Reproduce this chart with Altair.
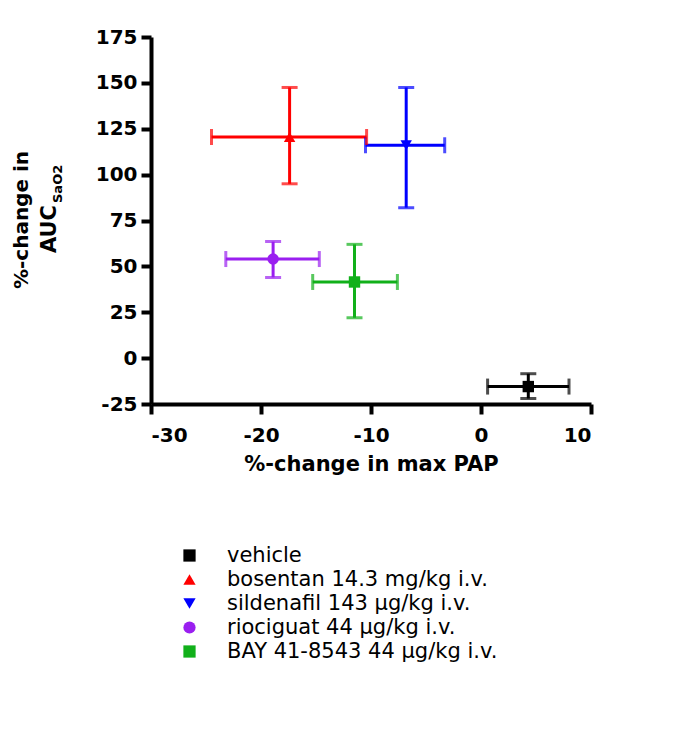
import altair as alt
import pandas as pd

groups = ["vehicle", "bosentan 14.3 mg/kg i.v.", "sildenafil 143 µg/kg i.v.",
          "riociguat 44 µg/kg i.v.", "BAY 41-8543 44 µg/kg i.v."]
colors = ["#000000", "#ff0000", "#0000ff", "#9a1ff0", "#11b01a"]
shapes = ["square", "triangle-up", "triangle-down", "circle", "square"]

x_mean = [4.3, -17.4, -6.8, -18.9, -11.5]
x_lo = [0.6, -24.5, -10.5, -23.2, -15.3]
x_hi = [8.0, -10.4, -3.3, -14.7, -7.6]
y_mean = [-15.5, 120.5, 116.0, 54.0, 41.5]
y_lo = [-22.0, 95.0, 82.0, 44.0, 22.0]
y_hi = [-8.5, 147.5, 147.5, 63.5, 62.0]

df = pd.DataFrame({"group": groups, "x": x_mean, "xlo": x_lo, "xhi": x_hi,
                   "y": y_mean, "ylo": y_lo, "yhi": y_hi})

FONT = "DejaVu Sans"
LBL = "datum.value < 0 ? '-' + abs(datum.value) : '' + datum.value"
xs = alt.Scale(domain=[-30, 10], nice=False, zero=False)
ys = alt.Scale(domain=[-25, 175], nice=False, zero=False)
cs = alt.Scale(domain=groups, range=colors)
ss = alt.Scale(domain=groups, range=shapes)

xax = alt.Axis(values=[-30, -20, -10, 0, 10], title="%-change in max PAP", grid=False, labelExpr=LBL)
yax = alt.Axis(values=list(range(-25, 176, 25)), title=None, grid=False, labelExpr=LBL)

leg = alt.Legend(title=None, orient="none", legendX=28, legendY=508)
col = alt.Color("group:N", scale=cs, legend=leg, sort=groups)

base = alt.Chart(df)

hbar = base.mark_rule(strokeWidth=3).encode(
    x=alt.X("xlo:Q", scale=xs, axis=xax), x2="xhi:Q",
    y=alt.Y("y:Q", scale=ys, axis=yax), color=col)
vbar = base.mark_rule(strokeWidth=3).encode(
    x=alt.X("x:Q", scale=xs, axis=xax),
    y=alt.Y("ylo:Q", scale=ys, axis=yax), y2="yhi:Q", color=col)
capl = base.mark_tick(orient="vertical", size=16, thickness=3).encode(
    x=alt.X("xlo:Q", scale=xs, axis=xax), y=alt.Y("y:Q", scale=ys, axis=yax), color=col)
capr = base.mark_tick(orient="vertical", size=16, thickness=3).encode(
    x=alt.X("xhi:Q", scale=xs, axis=xax), y=alt.Y("y:Q", scale=ys, axis=yax), color=col)
capb = base.mark_tick(orient="horizontal", size=16, thickness=3).encode(
    x=alt.X("x:Q", scale=xs, axis=xax), y=alt.Y("ylo:Q", scale=ys, axis=yax), color=col)
capt = base.mark_tick(orient="horizontal", size=16, thickness=3).encode(
    x=alt.X("x:Q", scale=xs, axis=xax), y=alt.Y("yhi:Q", scale=ys, axis=yax), color=col)
pts = base.mark_point(filled=True, size=130, opacity=1).encode(
    x=alt.X("x:Q", scale=xs, axis=xax), y=alt.Y("y:Q", scale=ys, axis=yax),
    color=col, shape=alt.Shape("group:N", scale=ss, legend=leg, sort=groups))

# y-axis title drawn as text (with subscript)
t1 = alt.Chart(pd.DataFrame({"t": ["%-change in"]})).mark_text(
    angle=270, font=FONT, fontSize=20, fontWeight="bold", align="center", baseline="middle"
).encode(text="t:N", x=alt.value(-129), y=alt.value(183))
t2 = alt.Chart(pd.DataFrame({"t": ["AUC"]})).mark_text(
    angle=270, font=FONT, fontSize=21, fontWeight="bold", align="right", baseline="middle"
).encode(text="t:N", x=alt.value(-101), y=alt.value(168))
t3 = alt.Chart(pd.DataFrame({"t": ["SaO2"]})).mark_text(
    angle=270, font=FONT, fontSize=13, fontWeight="bold", align="left", baseline="middle"
).encode(text="t:N", x=alt.value(-93), y=alt.value(166))

chart = alt.layer(hbar, vbar, capl, capr, capb, capt, pts, t1, t2, t3).properties(
    width=440, height=367,
    autosize=alt.AutoSizeParams(type="none"),
    padding={"left": 143, "top": 29, "right": 80, "bottom": 320},
).configure_view(stroke=None).configure_axis(
    domainColor="black", domainWidth=4, tickColor="black", tickWidth=4, tickSize=10,
    labelFont=FONT, labelFontSize=20, labelFontWeight="bold", labelColor="black",
    titleFont=FONT, titleFontSize=21, titleFontWeight="bold", titleColor="black",
).configure_axisX(labelPadding=11, titlePadding=8).configure_axisY(labelPadding=4
).configure_legend(
    padding=0, symbolSize=150, labelFont=FONT, labelFontSize=21, labelColor="black",
    labelOffset=27, rowPadding=2, symbolStrokeWidth=0, symbolOpacity=1, labelLimit=500,
)

chart.save("out.html", embed_options={"renderer": "svg", "actions": False})
